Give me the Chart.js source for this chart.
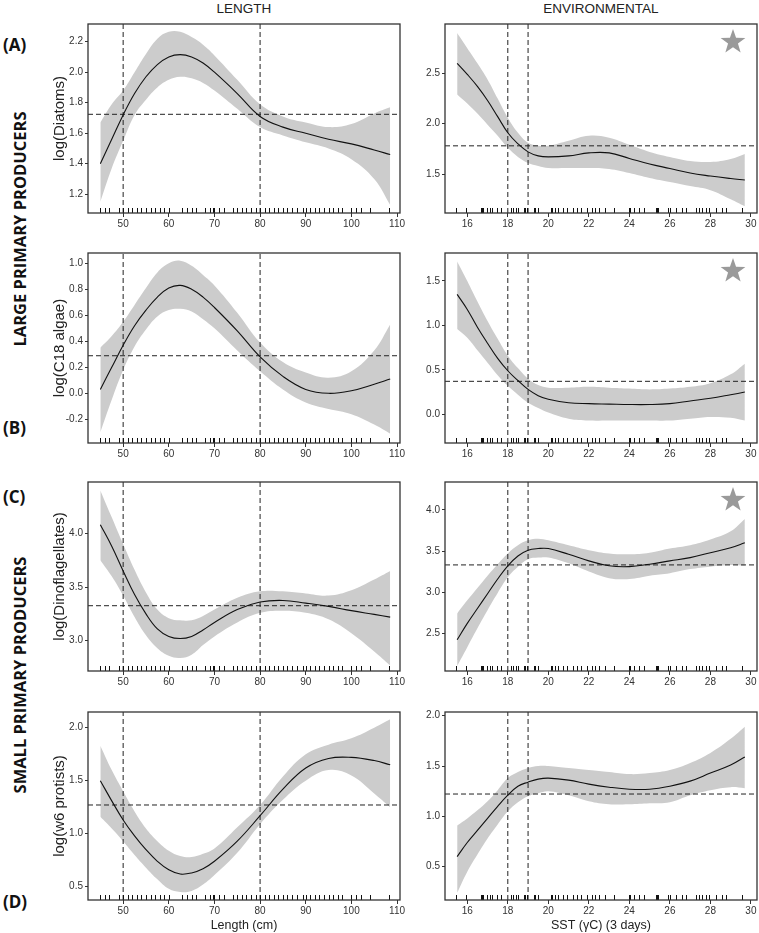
<!DOCTYPE html>
<html>
<head>
<meta charset="utf-8">
<script src="https://cdn.jsdelivr.net/npm/chart.js@4.4.1/dist/chart.umd.min.js"></script>
<style>
body{margin:0;width:759px;height:933px;overflow:hidden;background:#fff;position:relative;font-family:"Liberation Sans",Arial,sans-serif}
.p{position:absolute}
.h{position:absolute;width:200px;text-align:center;font-size:13.5px;line-height:16px;color:#222}
.b{position:absolute;font-family:"Open Sans",sans-serif;font-weight:700;color:#111;font-size:17px;line-height:20px}
.s{position:absolute;width:280px;text-align:center;font-family:"Open Sans",sans-serif;font-weight:700;color:#111;font-size:16.5px;line-height:20px;transform:rotate(-90deg)}
</style>
</head>
<body>
<div class="h" style="left:144px;top:1px">LENGTH</div>
<div class="h" style="left:501px;top:1px">ENVIRONMENTAL</div>
<div class="b" style="left:3px;top:35px">(A)</div>
<div class="b" style="left:3px;top:418px">(B)</div>
<div class="b" style="left:3px;top:487px">(C)</div>
<div class="b" style="left:3px;top:892px">(D)</div>
<div class="s" style="left:-120px;top:219px">LARGE PRIMARY PRODUCERS</div>
<div class="s" style="left:-120px;top:665px">SMALL PRIMARY PRODUCERS</div>

<div class="p" id="wa1"><canvas id="a1"></canvas></div>
<div class="p" id="wa2"><canvas id="a2"></canvas></div>
<div class="p" id="wb1"><canvas id="b1"></canvas></div>
<div class="p" id="wb2"><canvas id="b2"></canvas></div>
<div class="p" id="wc1"><canvas id="c1"></canvas></div>
<div class="p" id="wc2"><canvas id="c2"></canvas></div>
<div class="p" id="wd1"><canvas id="d1"></canvas></div>
<div class="p" id="wd2"><canvas id="d2"></canvas></div>

<script>
// sample positions of the smooth fits
const lengthX = [45, 47.5, 50, 52.5, 55, 57.5, 60, 62.5, 65, 67.5, 70, 75, 80, 85, 90, 95, 100, 105, 108.5];
const sstX = [15.5, 16, 16.5, 17, 17.5, 18, 18.5, 19, 19.5, 20, 21, 22, 23, 24, 25, 26, 27, 28, 29, 29.7];

// (A) diatoms
const diatomsLenFit = [1.40, 1.56, 1.72, 1.86, 1.97, 2.05, 2.10, 2.115, 2.10, 2.06, 2.00, 1.86, 1.71, 1.64, 1.60, 1.56, 1.53, 1.49, 1.46];
const diatomsLenHi = [1.67, 1.79, 1.88, 2.00, 2.12, 2.22, 2.265, 2.265, 2.23, 2.18, 2.11, 1.95, 1.79, 1.71, 1.67, 1.64, 1.66, 1.73, 1.77];
const diatomsLenLo = [1.15, 1.37, 1.55, 1.72, 1.82, 1.90, 1.95, 1.97, 1.96, 1.93, 1.88, 1.76, 1.64, 1.585, 1.54, 1.50, 1.43, 1.30, 1.13];
const diatomsSstFit = [2.60, 2.49, 2.37, 2.23, 2.07, 1.91, 1.80, 1.72, 1.68, 1.67, 1.68, 1.71, 1.71, 1.655, 1.60, 1.555, 1.51, 1.48, 1.455, 1.44];
const diatomsSstHi = [2.90, 2.75, 2.60, 2.44, 2.25, 2.06, 1.91, 1.81, 1.78, 1.78, 1.83, 1.88, 1.86, 1.79, 1.72, 1.67, 1.63, 1.62, 1.65, 1.70];
const diatomsSstLo = [2.29, 2.20, 2.10, 1.99, 1.88, 1.76, 1.67, 1.61, 1.58, 1.56, 1.56, 1.56, 1.55, 1.51, 1.46, 1.42, 1.38, 1.34, 1.25, 1.18];

// (B) C18 algae
const algaeLenFit = [0.03, 0.20, 0.37, 0.52, 0.64, 0.74, 0.81, 0.83, 0.80, 0.74, 0.66, 0.48, 0.28, 0.13, 0.03, 0.00, 0.02, 0.07, 0.11];
const algaeLenHi = [0.35, 0.44, 0.55, 0.68, 0.81, 0.93, 1.00, 1.02, 0.98, 0.91, 0.83, 0.62, 0.39, 0.24, 0.16, 0.12, 0.17, 0.33, 0.53];
const algaeLenLo = [-0.30, -0.05, 0.18, 0.36, 0.49, 0.59, 0.64, 0.65, 0.63, 0.57, 0.50, 0.33, 0.17, 0.03, -0.07, -0.12, -0.16, -0.24, -0.31];
const algaeSstFit = [1.35, 1.18, 0.98, 0.80, 0.63, 0.49, 0.38, 0.28, 0.21, 0.17, 0.13, 0.12, 0.115, 0.11, 0.11, 0.12, 0.15, 0.18, 0.22, 0.25];
const algaeSstHi = [1.72, 1.50, 1.27, 1.05, 0.85, 0.66, 0.52, 0.40, 0.33, 0.30, 0.30, 0.31, 0.30, 0.29, 0.28, 0.29, 0.31, 0.35, 0.45, 0.57];
const algaeSstLo = [0.96, 0.86, 0.72, 0.58, 0.44, 0.32, 0.22, 0.13, 0.07, 0.02, -0.05, -0.07, -0.07, -0.07, -0.07, -0.07, -0.05, -0.03, -0.04, -0.07];

// (C) dinoflagellates
const dinoLenFit = [4.08, 3.88, 3.65, 3.43, 3.25, 3.11, 3.04, 3.02, 3.04, 3.10, 3.17, 3.29, 3.36, 3.375, 3.35, 3.32, 3.28, 3.245, 3.22];
const dinoLenHi = [4.40, 4.15, 3.90, 3.66, 3.45, 3.29, 3.21, 3.19, 3.19, 3.23, 3.29, 3.40, 3.46, 3.46, 3.44, 3.42, 3.47, 3.57, 3.65];
const dinoLenLo = [3.75, 3.60, 3.42, 3.22, 3.05, 2.93, 2.86, 2.84, 2.87, 2.96, 3.04, 3.17, 3.26, 3.28, 3.26, 3.20, 3.07, 2.90, 2.77];
const dinoSstFit = [2.42, 2.62, 2.80, 2.98, 3.16, 3.32, 3.44, 3.51, 3.53, 3.53, 3.46, 3.38, 3.32, 3.31, 3.34, 3.38, 3.42, 3.48, 3.54, 3.60];
const dinoSstHi = [2.74, 2.90, 3.05, 3.20, 3.34, 3.47, 3.57, 3.63, 3.65, 3.63, 3.57, 3.51, 3.47, 3.46, 3.48, 3.53, 3.57, 3.64, 3.74, 3.89];
const dinoSstLo = [2.10, 2.33, 2.56, 2.78, 2.99, 3.18, 3.31, 3.40, 3.42, 3.42, 3.35, 3.25, 3.17, 3.16, 3.20, 3.23, 3.28, 3.31, 3.33, 3.32];

// (D) w6 protists
const protLenFit = [1.50, 1.31, 1.13, 0.98, 0.85, 0.74, 0.66, 0.62, 0.63, 0.67, 0.74, 0.93, 1.17, 1.42, 1.62, 1.71, 1.72, 1.69, 1.65];
const protLenHi = [1.83, 1.60, 1.40, 1.21, 1.05, 0.93, 0.84, 0.79, 0.78, 0.81, 0.86, 1.06, 1.27, 1.54, 1.75, 1.84, 1.90, 2.00, 2.08];
const protLenLo = [1.16, 1.05, 0.93, 0.80, 0.68, 0.57, 0.48, 0.45, 0.46, 0.52, 0.61, 0.82, 1.09, 1.32, 1.50, 1.60, 1.55, 1.38, 1.25];
const protSstFit = [0.60, 0.74, 0.86, 0.98, 1.10, 1.21, 1.30, 1.34, 1.37, 1.38, 1.36, 1.32, 1.29, 1.27, 1.27, 1.30, 1.35, 1.43, 1.51, 1.59];
const protSstHi = [0.91, 0.98, 1.06, 1.15, 1.26, 1.38, 1.44, 1.48, 1.50, 1.50, 1.48, 1.46, 1.44, 1.42, 1.43, 1.46, 1.53, 1.63, 1.77, 1.89];
const protSstLo = [0.24, 0.45, 0.62, 0.78, 0.92, 1.05, 1.14, 1.20, 1.23, 1.25, 1.21, 1.15, 1.12, 1.12, 1.13, 1.14, 1.21, 1.26, 1.29, 1.28];

// reference lines
const lengthCuts = [50, 80];
const sstCuts = [18, 19];
const meanLines = {a1: 1.724, a2: 1.78, b1: 0.289, b2: 0.371, c1: 3.326, c2: 3.331, d1: 1.271, d2: 1.222};

// observations (rug)
const lengthRug = [45, 46, 47, 49, 50, 51, 52, 53, 54, 55, 56, 57, 58, 59, 60, 63, 64, 65, 66, 68, 69, 69.6, 70, 71, 72,
  74, 75, 76, 77, 78, 79, 80, 81, 82, 83, 84, 85, 86, 87, 88, 89.5, 90, 91, 92, 93, 94, 95, 96, 97, 98, 100, 101, 102, 104, 108.2];
const sstRug = [15.46, 15.95, 16.66, 16.73, 16.8, 16.95, 17.13, 17.2, 17.48, 17.67, 18.17, 18.28, 18.38, 18.5, 18.8, 18.85, 18.93,
  19.28, 19.36, 19.5, 20.12, 20.19, 20.35, 20.48, 20.71, 20.94, 21.2, 21.4, 21.6, 21.9, 22.16, 22.3, 22.48, 22.8, 23.26,
  24.0, 24.05, 24.24, 24.49, 24.7, 25.3, 25.35, 25.4, 25.93, 26.0, 26.3, 26.6, 26.8, 27.28, 27.44, 27.6, 27.77, 27.94, 28.27, 28.59, 28.76, 29.58];

// axis ticks
const lengthTicks = [50, 60, 70, 80, 90, 100, 110];
const sstTicks = [16, 18, 20, 22, 24, 26, 28, 30];
const diatomsLenTicks = [1.2, 1.4, 1.6, 1.8, 2.0, 2.2];
const diatomsSstTicks = [1.5, 2.0, 2.5];
const algaeLenTicks = [-0.2, 0.0, 0.2, 0.4, 0.6, 0.8, 1.0];
const algaeSstTicks = [0.0, 0.5, 1.0, 1.5];
const dinoLenTicks = [3.0, 3.5, 4.0];
const dinoSstTicks = [2.5, 3.0, 3.5, 4.0];
const protLenTicks = [0.5, 1.0, 1.5, 2.0];
const protSstTicks = [0.5, 1.0, 1.5, 2.0];

// panel frames (plot area in page pixels)
const colLeft = [88, 445], colRight = [400, 757];
const rowTop = [24, 253, 482, 712], rowBottom = [213, 443, 671, 900];
const YW = 40, XH = 33, PT = 10, PR = 8;

const panels = [
  {id: 'a1', r: 0, c: 0, fit: diatomsLenFit, hi: diatomsLenHi, lo: diatomsLenLo, yr: [1.077, 2.316], yt: diatomsLenTicks, title: 'log(Diatoms)'},
  {id: 'a2', r: 0, c: 1, fit: diatomsSstFit, hi: diatomsSstHi, lo: diatomsSstLo, yr: [1.113, 2.99], yt: diatomsSstTicks, star: true},
  {id: 'b1', r: 1, c: 0, fit: algaeLenFit, hi: algaeLenHi, lo: algaeLenLo, yr: [-0.382, 1.079], yt: algaeLenTicks, title: 'log(C18 algae)'},
  {id: 'b2', r: 1, c: 1, fit: algaeSstFit, hi: algaeSstHi, lo: algaeSstLo, yr: [-0.323, 1.815], yt: algaeSstTicks, star: true},
  {id: 'c1', r: 2, c: 0, fit: dinoLenFit, hi: dinoLenHi, lo: dinoLenLo, yr: [2.718, 4.478], yt: dinoLenTicks, title: 'log(Dinoflagellates)'},
  {id: 'c2', r: 2, c: 1, fit: dinoSstFit, hi: dinoSstHi, lo: dinoSstLo, yr: [2.04, 4.34], yt: dinoSstTicks, star: true},
  {id: 'd1', r: 3, c: 0, fit: protLenFit, hi: protLenHi, lo: protLenLo, yr: [0.375, 2.148], yt: protLenTicks, title: 'log(w6 protists)', xTitle: 'Length (cm)'},
  {id: 'd2', r: 3, c: 1, fit: protSstFit, hi: protSstHi, lo: protSstLo, yr: [0.169, 2.037], yt: protSstTicks, xTitle: 'SST (γC) (3 days)'}
];

const deco = {
  id: 'deco',
  afterDatasetsDraw(chart, args, opts) {
    const {ctx, chartArea: a} = chart;
    const x = chart.scales.x;
    ctx.save();
    ctx.strokeStyle = '#111';
    ctx.lineWidth = 1;
    opts.rug.forEach(v => {
      const px = Math.round(x.getPixelForValue(v)) + 0.5;
      ctx.beginPath();
      ctx.moveTo(px, a.bottom);
      ctx.lineTo(px, a.bottom - 5);
      ctx.stroke();
    });
    if (opts.star) {
      const cx = a.right - 24, cy = a.top + 18, R = 13, r = 5.2;
      ctx.fillStyle = '#9a9a9a';
      ctx.beginPath();
      for (let i = 0; i < 10; i++) {
        const ang = -Math.PI / 2 + i * Math.PI / 5;
        const rad = i % 2 ? r : R;
        ctx.lineTo(cx + rad * Math.cos(ang), cy + rad * Math.sin(ang));
      }
      ctx.closePath();
      ctx.fill();
    }
    ctx.strokeStyle = '#333';
    ctx.lineWidth = 1.3;
    ctx.strokeRect(a.left, a.top, a.right - a.left, a.bottom - a.top);
    ctx.restore();
  }
};

const tickFont = {family: '"Liberation Sans", Arial, sans-serif', size: 10};
const pts = (xs, ys) => xs.map((v, i) => ({x: v, y: ys[i]}));

panels.forEach(p => {
  const isLen = p.c === 0;
  const xs = isLen ? lengthX : sstX;
  const xr = isLen ? [42.3, 110.65] : [14.9, 30.3];
  const cuts = isLen ? lengthCuts : sstCuts;
  const w = document.getElementById('w' + p.id);
  const aw = colRight[p.c] - colLeft[p.c], ah = rowBottom[p.r] - rowTop[p.r];
  w.style.left = (colLeft[p.c] - YW) + 'px';
  w.style.top = (rowTop[p.r] - PT) + 'px';
  w.style.width = (aw + YW + PR) + 'px';
  w.style.height = (ah + PT + XH) + 'px';
  const h = meanLines[p.id];
  const dash = {borderColor: '#222', borderWidth: 1, borderDash: [5, 3], pointRadius: 0, fill: false};
  new Chart(document.getElementById(p.id), {
    type: 'line',
    data: {
      datasets: [
        {data: pts(xs, p.fit), borderColor: '#111', borderWidth: 1.1, pointRadius: 0, fill: false, tension: 0.4},
        Object.assign({data: [{x: xr[0], y: h}, {x: xr[1], y: h}]}, dash),
        Object.assign({data: [{x: cuts[0], y: p.yr[0]}, {x: cuts[0], y: p.yr[1]}]}, dash),
        Object.assign({data: [{x: cuts[1], y: p.yr[0]}, {x: cuts[1], y: p.yr[1]}]}, dash),
        {data: pts(xs, p.hi), borderWidth: 0, pointRadius: 0, backgroundColor: '#cccccc', fill: '+1', tension: 0.4},
        {data: pts(xs, p.lo), borderWidth: 0, pointRadius: 0, fill: false, tension: 0.4}
      ]
    },
    options: {
      responsive: true,
      maintainAspectRatio: false,
      animation: false,
      events: [],
      layout: {padding: {top: PT, right: PR, left: 0, bottom: 0}},
      plugins: {
        legend: {display: false},
        tooltip: {enabled: false},
        deco: {rug: isLen ? lengthRug : sstRug, star: !!p.star}
      },
      scales: {
        x: {
          type: 'linear', min: xr[0], max: xr[1],
          afterBuildTicks: s => { s.ticks = (isLen ? lengthTicks : sstTicks).map(v => ({value: v})); },
          afterFit: s => { s.height = XH; },
          ticks: {font: tickFont, color: '#333', padding: 1, maxRotation: 0, autoSkip: false},
          grid: {drawOnChartArea: false, drawTicks: true, tickLength: 4, color: '#333'},
          border: {display: false},
          title: {display: !!p.xTitle, text: p.xTitle || '', color: '#222', padding: {top: 0, bottom: 0},
                  font: {family: '"Liberation Sans", Arial, sans-serif', size: 12.5}}
        },
        y: {
          type: 'linear', min: p.yr[0], max: p.yr[1],
          afterBuildTicks: s => { s.ticks = p.yt.map(v => ({value: v})); },
          afterFit: s => { s.width = YW; },
          ticks: {font: tickFont, color: '#333', padding: 2, autoSkip: false, callback: v => v.toFixed(1)},
          grid: {drawOnChartArea: false, drawTicks: true, tickLength: 3, color: '#333'},
          border: {display: false},
          title: {display: !!p.title, text: p.title || '', color: '#222', padding: {top: 3, bottom: 0},
                  font: {family: '"Liberation Sans", Arial, sans-serif', size: 15}}
        }
      }
    },
    plugins: [deco]
  });
});
</script>
</body>
</html>
